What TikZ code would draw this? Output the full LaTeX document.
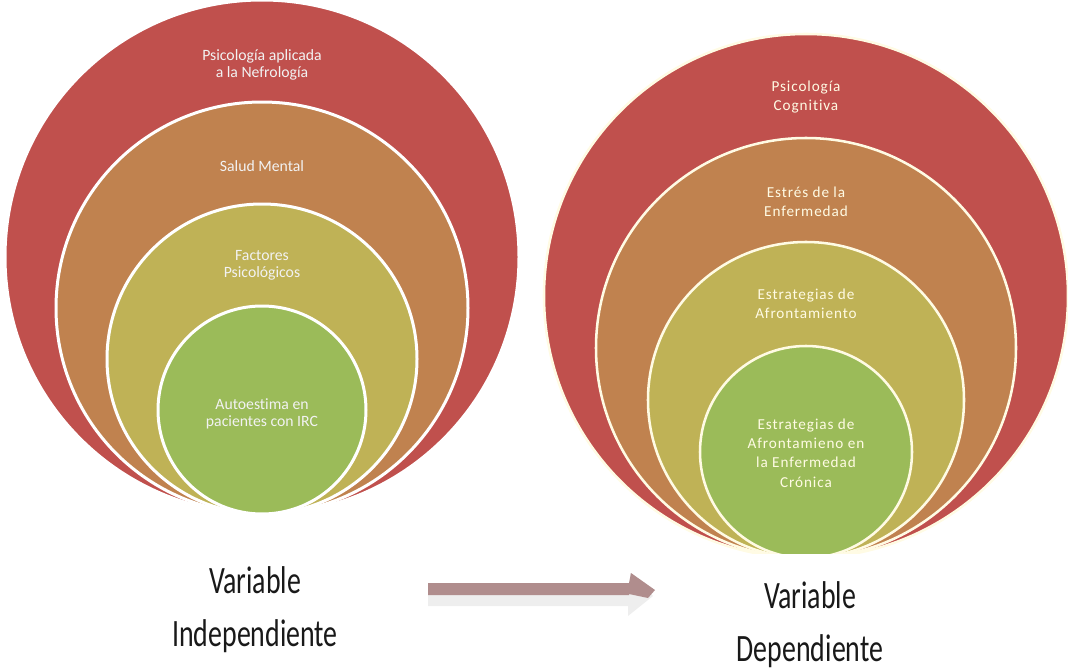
\documentclass[tikz,border=0pt]{standalone}
\usepackage{fontspec}
\setmainfont{Carlito}[Ligatures=NoCommon]
\newfontfamily\spacedfont[LetterSpace=6,Ligatures=NoCommon]{Carlito}
\usetikzlibrary{positioning}

\definecolor{ringred}{HTML}{C0504D}
\definecolor{ringorange}{HTML}{C0824F}
\definecolor{ringolive}{HTML}{BFB256}
\definecolor{ringgreen}{HTML}{9BBB59}
\definecolor{ringcream}{HTML}{FFFBE4}
\definecolor{arrdark}{HTML}{B08D8D}
\definecolor{arrlight}{HTML}{EEEEEE}

\tikzset{x=0.75pt, y=-0.75pt,
ring/.style={ % one disc of the stacked circles, #1 = radius
circle,
draw=white,
line width=2.25pt,
inner sep=0pt, outer sep=0pt,
minimum size=#1*1.5pt},
ringtxt/.style={ % labels inside the discs
align=center,
text=white!95!black,
font=\fontsize{11.8}{12.75}\selectfont},
rtxt/.style={
align=center,
text=ringcream,
font=\spacedfont\fontsize{11.4}{14.6}\selectfont},
vartxt/.style={
text=black!90,
inner sep=0pt}}

\newcommand{\varlabel}[2]{\scalebox{1}[1.39]{\fontsize{20.9}{28.6}\selectfont
\begin{tabular}{@{}c@{}}#1\\#2\end{tabular}}}

\begin{document}
\begin{tikzpicture}
\useasboundingbox (0,0) rectangle (1068,671);

% left stack
\node[ring=257, fill=ringred] (l1) at (262,257) {};
\node[ring=206, fill=ringorange] (l2) at (262,308) {};
\node[ring=155, fill=ringolive] (l3) at (262,359) {};
\node[ring=104, fill=ringgreen] (l4) at (262,410) {};
\node[ringtxt] (lt1) at (262,65) {Psicología aplicada\\a la Nefrología};
\node[ringtxt] (lt2) at (262,166) {Salud Mental};
\node[ringtxt] (lt3) at (262,265.5) {Factores\\Psicológicos};
\node[ringtxt] (lt4) at (262,414) {Autoestima en\\pacientes con IRC};

% right stack, cut flat at the bottom
\begin{scope}
\clip (540,0) rectangle (1068,553);
\node[ring=262, fill=ringred, draw=ringcream, line width=1.9pt] (r1) at (806,296) {};
\node[ring=210, fill=ringorange, draw=ringcream, line width=1.9pt] (r2) at (806,348) {};
\node[ring=158, fill=ringolive, draw=ringcream, line width=1.9pt] (r3) at (806,400) {};
\node[ring=106, fill=ringgreen, draw=ringcream, line width=1.9pt] (r4) at (806,452) {};
\end{scope}
\node[rtxt] (rt1) at (806,97) {Psicología\\Cognitiva};
\node[rtxt] (rt2) at (806,202) {Estrés de la\\Enfermedad};
\node[rtxt] (rt3) at (806,304) {Estrategias de\\Afrontamiento};
\node[rtxt] (rt4) at (806,453) {Estrategias de\\Afrontamieno en\\la Enfermedad\\Crónica};

% captions
\node[vartxt] (vind) at (255,609) {\varlabel{Variable}{Independiente}};
\node[vartxt] (vdep) at (810,624.5) {\varlabel{Variable}{Dependiente}};

% arrow with its faded reflection
\coordinate (arrS) at (428,595);
\begin{scope}[shift={(arrS)}]
\fill[arrlight] (0,-12) -- (202,-12) -- (202,-22) -- (225,1) -- (200,21) -- (200,11) -- (0,11) -- cycle;
\fill[arrdark] (0,-12) -- (201,-12) -- (203,-22) -- (227,-5) -- (220,3) -- (201,-1) -- (201,0) -- (0,0) -- cycle;
\end{scope}
\end{tikzpicture}
\end{document}
